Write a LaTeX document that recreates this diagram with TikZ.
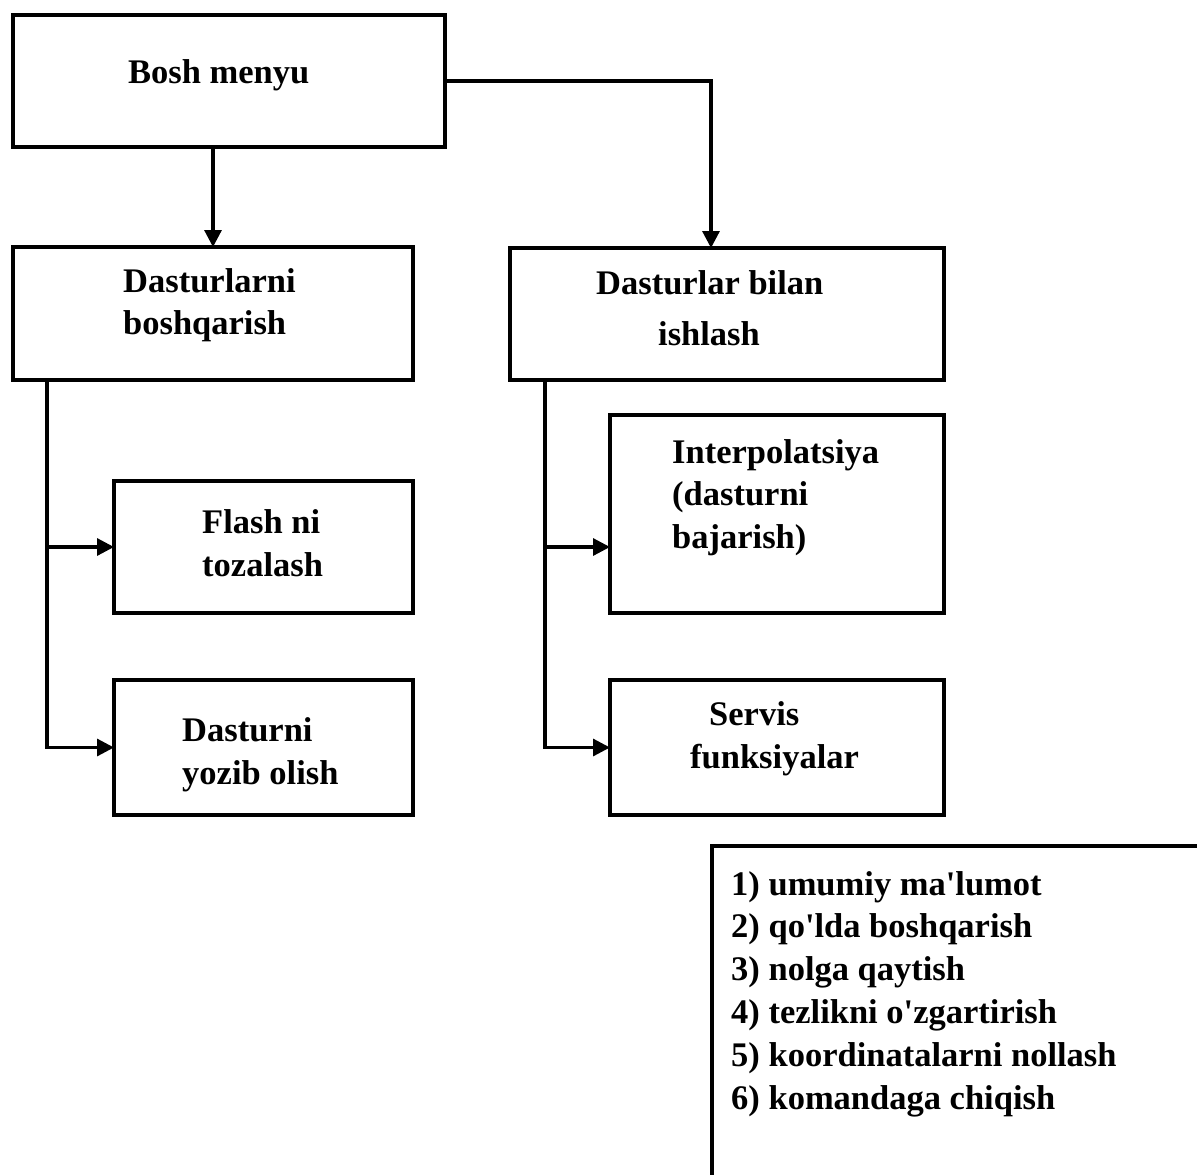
\documentclass[tikz,border=0pt]{standalone}
\usepackage{fontspec}
\setmainfont{Liberation Serif}
\usetikzlibrary{arrows.meta}
\begin{document}
\begin{tikzpicture}[x=1pt,y=-1pt,
  box/.style={draw=black,line width=3.2pt,rectangle,inner sep=0pt,outer sep=0pt,anchor=north west},
  txt/.style={anchor=base west,inner sep=0pt,font=\fontsize{34.5}{42.8}\selectfont\bfseries},
  conn/.style={line width=3.2pt,draw=black},
  arr/.style={conn,-{Triangle[length=17pt,width=17pt]}}]
\clip (0,0) rectangle (1197,1175);
\fill[white] (0,0) rectangle (1197,1175);
% boxes
\node[box,minimum width=432pt,minimum height=132pt] (bosh) at (13,15) {};
\node[box,minimum width=400pt,minimum height=133pt] (dast) at (13,247) {};
\node[box,minimum width=434pt,minimum height=132pt] (ish) at (510,248) {};
\node[box,minimum width=299pt,minimum height=132pt] (flash) at (114,481) {};
\node[box,minimum width=299pt,minimum height=135pt] (yoz) at (114,680) {};
\node[box,minimum width=334pt,minimum height=198pt] (interp) at (610,415) {};
\node[box,minimum width=334pt,minimum height=135pt] (servis) at (610,680) {};
\node[box,minimum width=600pt,minimum height=500pt] (list) at (712,846) {};
% texts
\node[txt] (t1) at (128,83) {Bosh menyu};
\node[txt] (t2) at (123,292) {Dasturlarni};
\node[txt] (t3) at (123,334) {boshqarish};
\node[txt] (t4) at (596,294) {Dasturlar bilan};
\node[txt] (t5) at (658,345) {ishlash};
\node[txt] (t6) at (202,533) {Flash ni};
\node[txt] (t7) at (202,576) {tozalash};
\node[txt] (t8) at (182,741) {Dasturni};
\node[txt] (t9) at (182,784) {yozib olish};
\node[txt] (t10) at (672,463) {Interpolatsiya};
\node[txt] (t11) at (672,505) {(dasturni};
\node[txt] (t12) at (672,548) {bajarish)};
\node[txt] (t13) at (709,725) {Servis};
\node[txt] (t14) at (690,768) {funksiyalar};
\node[txt,align=left,anchor=north west] (t15) at (731,871) {1) umumiy ma\textquotesingle lumot\\2) qo\textquotesingle lda boshqarish\\3) nolga qaytish\\4) tezlikni o\textquotesingle zgartirish\\5) koordinatalarni nollash\\6) komandaga chiqish};
% connectors
\coordinate (j1) at (711,81);
\coordinate (lt) at (47,380);
\coordinate (rt) at (545,380);
\draw[arr] (dast.north |- bosh.south) -- (dast.north);
\draw[arr] (bosh.east) -- (bosh.east -| j1) -- (j1 |- ish.north);
\draw[arr] (lt |- dast.south) |- (yoz.west);
\draw[arr] (lt |- flash.west) -- (flash.west);
\draw[arr] (rt |- ish.south) |- (servis.west);
\draw[arr] (rt |- flash.west) -- (interp.west |- flash.west);
\end{tikzpicture}
\end{document}
